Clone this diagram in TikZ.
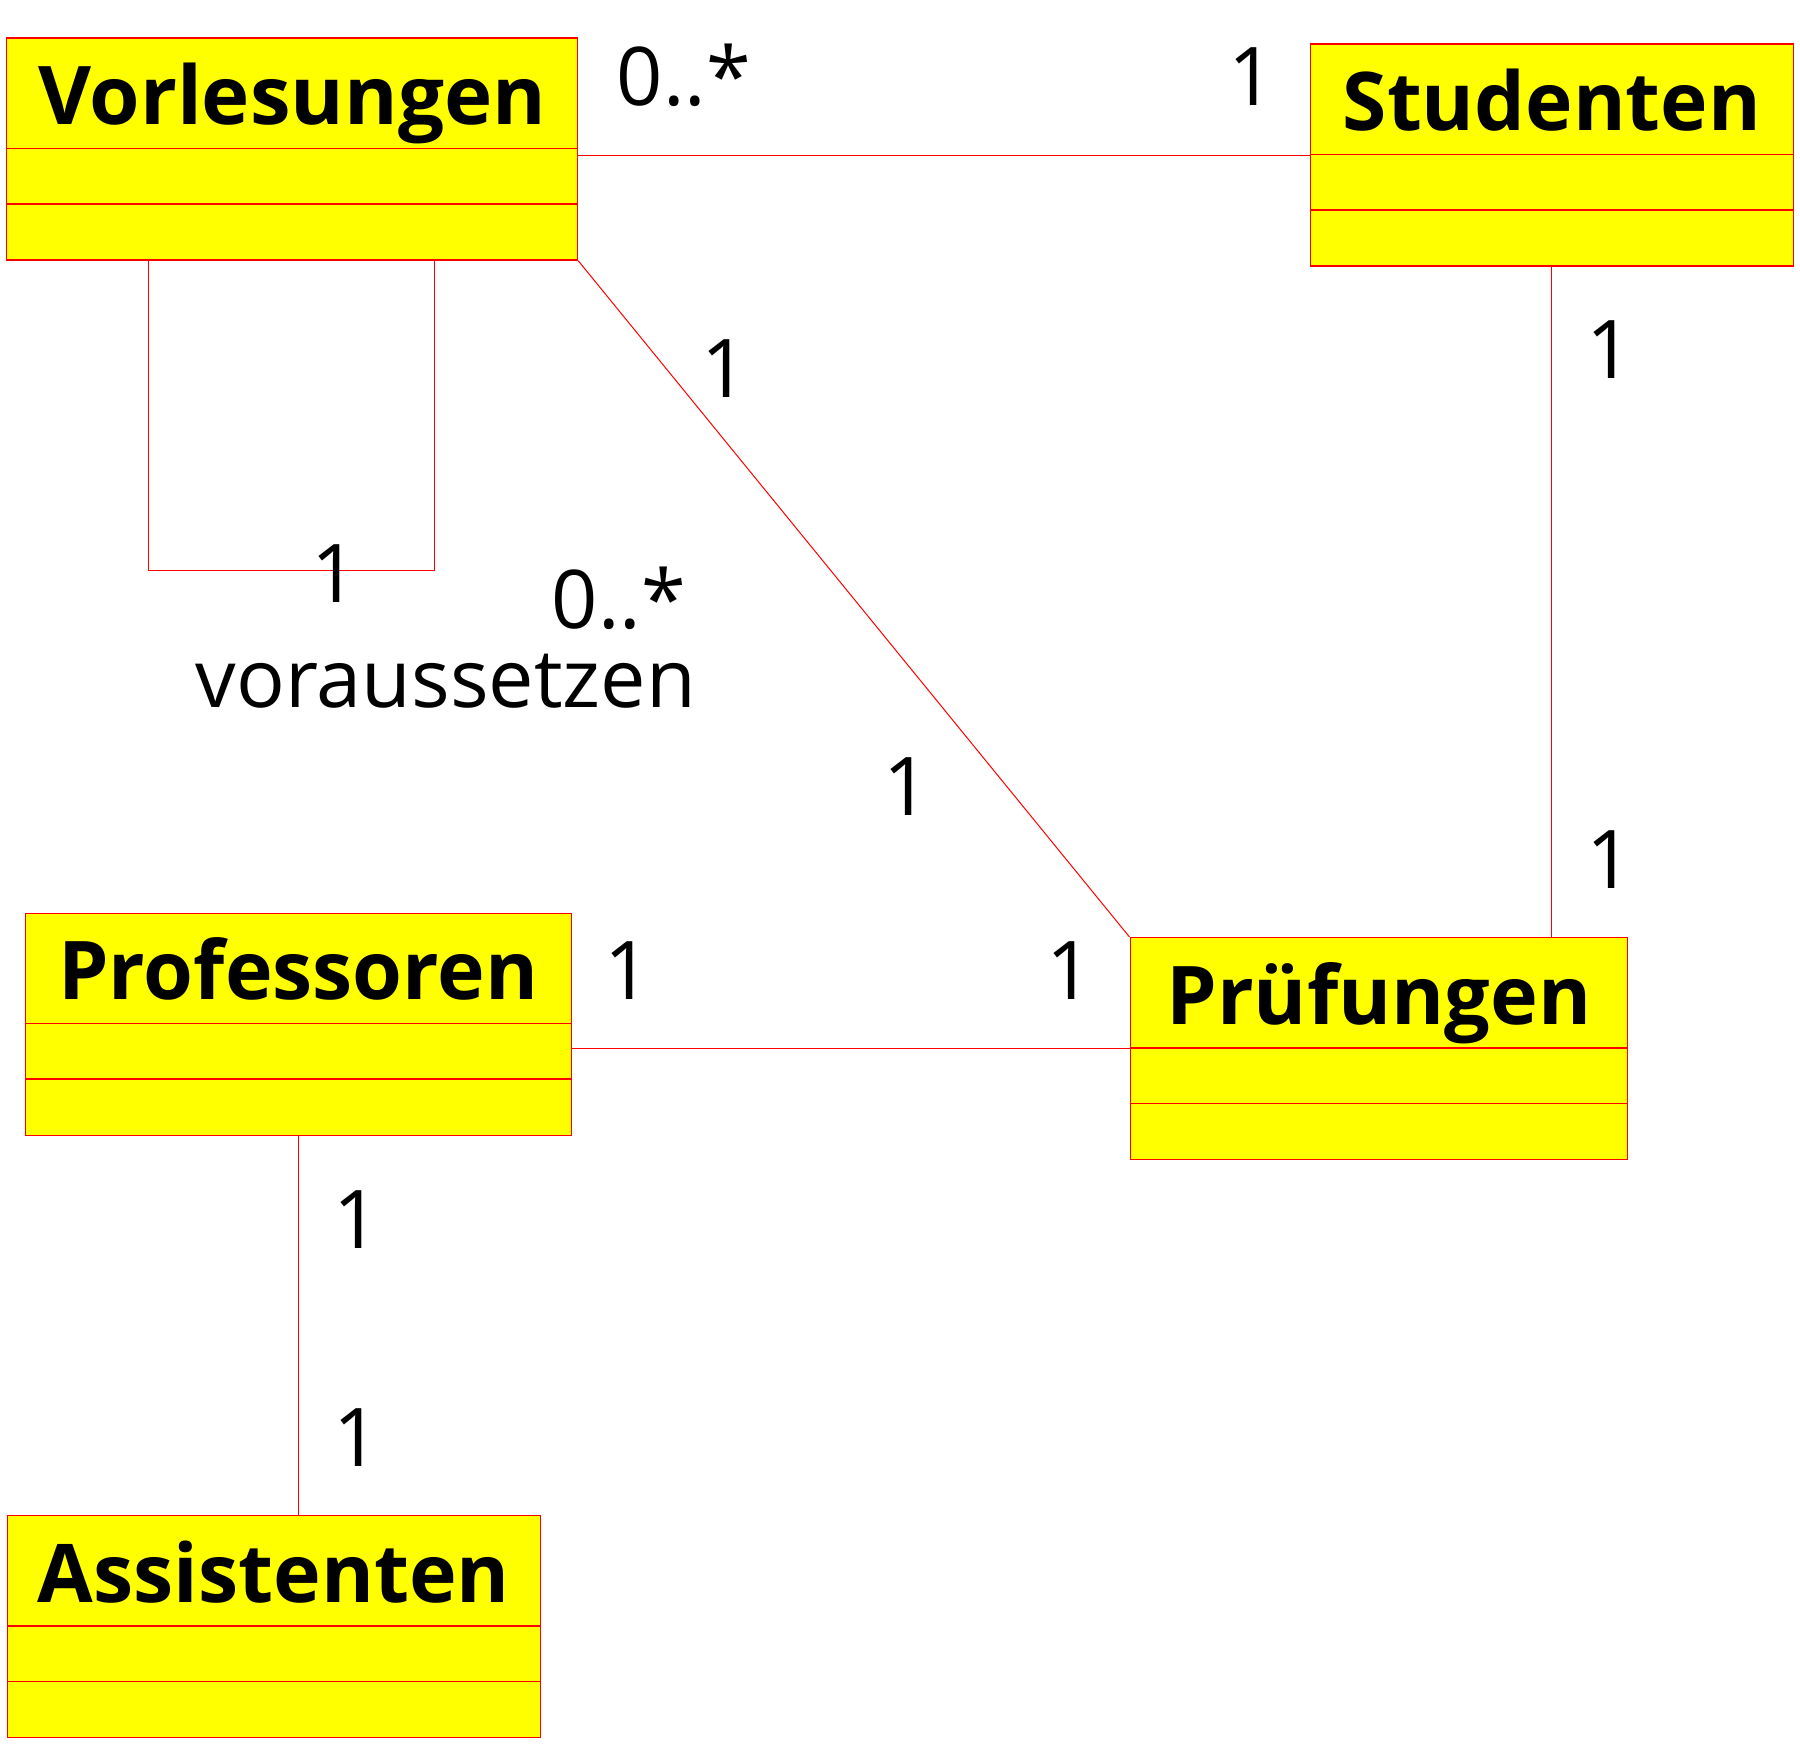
\documentclass[tikz,border=0pt]{standalone}
\usepackage{fontspec}
\setmainfont{Open Sans}
\usepackage{graphicx}
\definecolor{gelb}{RGB}{255,255,0}
\definecolor{rot}{RGB}{255,0,0}
\newcommand\titel[2]{\resizebox{#1pt}{\height}{\bfseries #2}}

\begin{document}
\begin{tikzpicture}[x=1pt,y=-1pt,line width=1pt,
                    every node/.style={font=\fontsize{81}{100}\selectfont,inner sep=0pt}]

  \tikzstyle{klasse}=[rectangle,draw=rot,fill=gelb,line width=1.2pt,
                      minimum height=222pt,anchor=north west]
  \tikzstyle{kopf}=[anchor=base]
  \tikzstyle{mult}=[anchor=base]
  \tikzstyle{verbindung}=[draw=rot]

  \useasboundingbox (0,0) rectangle (1800,1744);

  \node[klasse,minimum width=571pt]   (vorl) at (6,37.5)      {};
  \node[klasse,minimum width=483.5pt] (stud) at (1309.5,43.5) {};
  \node[klasse,minimum width=546.5pt] (prof) at (24.5,912.5)  {};
  \node[klasse,minimum width=497.5pt] (prue) at (1129.5,937)  {};
  \node[klasse,minimum width=533.5pt] (assi) at (6.5,1515)    {};

  % Abteilungen der Klassen
  \foreach \k in {vorl,stud,prof,prue,assi} {
    \draw[rot,line width=1.2pt] ([yshift=-111pt]\k.north west) -- ([yshift=-111pt]\k.north east);
    \draw[rot,line width=1.2pt] ([yshift=-166.5pt]\k.north west) -- ([yshift=-166.5pt]\k.north east);
  }

  \node[kopf] (vorl-t) at ([yshift=-87pt]vorl.north) {\titel{508}{Vorlesungen}};
  \node[kopf] (stud-t) at ([yshift=-87pt]stud.north) {\titel{418}{Studenten}};
  \node[kopf] (prof-t) at ([yshift=-87pt]prof.north) {\titel{480}{Professoren}};
  \node[kopf] (prue-t) at ([yshift=-87pt]prue.north) {\titel{425}{Prüfungen}};
  \node[kopf] (assi-t) at ([yshift=-87pt]assi.north) {\titel{472}{Assistenten}};

  \path[verbindung]
  (stud.west)       edge (stud.west -| vorl.east)
  (vorl.south east) edge (prue.north west)
  (stud.south)      edge (stud.south |- prue.north)
  (prue.west)       edge (prue.west -| prof.east)
  (prof.south)      edge (prof.south |- assi.north)
  ;
  \draw[verbindung] ([xshift=142.5pt]vorl.south west) -- ++(0,310)
                    -| ([xshift=428.5pt]vorl.south west);

  \node[mult] (m-vs1) at (684,106)    {0..*};
  \node[mult] (m-vs2) at (1252,106)   {1};
  \node[mult] (m-vp1) at (724.5,397)  {1};
  \node[mult] (m-vp2) at (906.5,815)  {1};
  \node[mult] (m-sp1) at (1609.5,379) {1};
  \node[mult] (m-sp2) at (1609.5,888) {1};
  \node[mult] (m-pp1) at (628,999)    {1};
  \node[mult] (m-pp2) at (1070,999)   {1};
  \node[mult] (m-pa1) at (356.5,1248) {1};
  \node[mult] (m-pa2) at (356.5,1466) {1};
  \node[mult] (m-vv1) at (334.5,602)  {1};
  \node[mult] (m-vv2) at (619,628)    {0..*};
  \node[mult] (voraus) at (446,707)   {voraussetzen};
\end{tikzpicture}
\end{document}
